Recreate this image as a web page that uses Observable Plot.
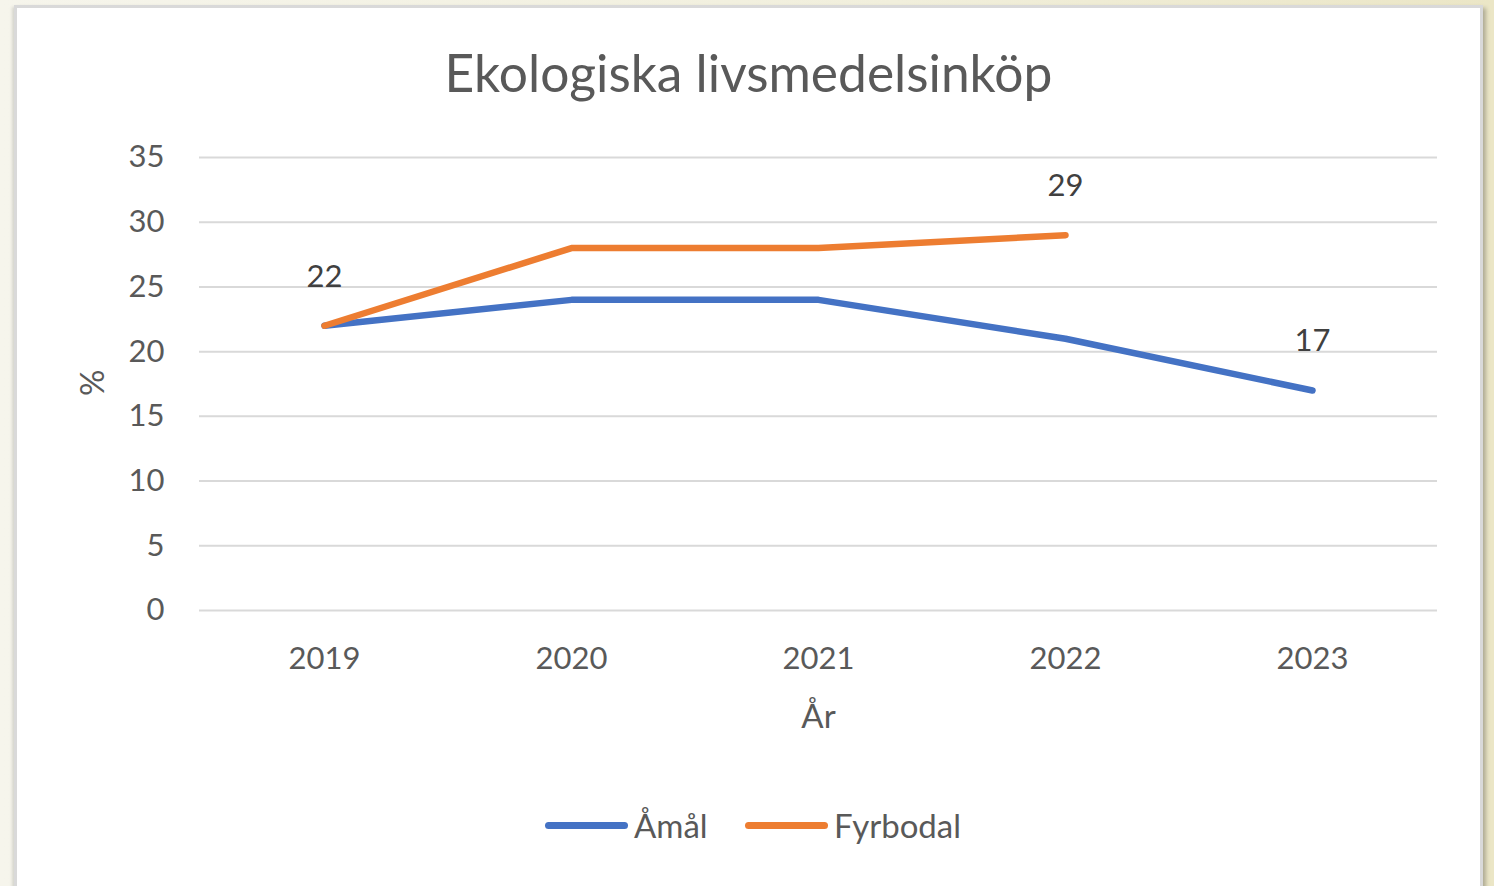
<!DOCTYPE html>
<html>
<head>
<meta charset="utf-8">
<script src="https://cdn.jsdelivr.net/npm/d3@7"></script>
<script src="https://cdn.jsdelivr.net/npm/@observablehq/plot@0.6"></script>
<style>
  html, body { margin: 0; padding: 0; }
  body {
    width: 1494px; height: 886px; overflow: hidden; position: relative;
    background: linear-gradient(to right, #f6f5ec 0%, #f1efdc 60%, #ebe6c6 100%);
    font-family: Lato, "Open Sans", sans-serif;
  }
  #panel {
    position: absolute; left: 14px; top: 5px; width: 1463px; height: 881px;
    background: #fff; border: 3px solid #d9d9d9; border-bottom: none;
    box-shadow: 3px 3px 4px rgba(0,0,0,0.25), -2px 2px 3px rgba(0,0,0,0.12);
  }
  #title {
    position: absolute; left: 0; top: 42px; width: 1497px; text-align: center;
    font-size: 51.5px; color: #595959; line-height: 60px;
  }
  #chart { position: absolute; left: 0; top: 120px; }
  #legend {
    position: absolute; top: 805px; left: 0; width: 1494px; height: 40px;
  }
  .li { position: absolute; top: 0; display: flex; align-items: center; height: 40px;
        font-size: 33px; color: #595959; }
  .sw { width: 83px; height: 7px; border-radius: 4px; margin-right: 6px; }
</style>
</head>
<body>
<div id="panel"></div>
<div id="title">Ekologiska livsmedelsinköp</div>
<div id="chart"></div>
<div id="legend">
  <div class="li" style="left:545px"><div class="sw" style="background:#4472c4"></div>Åmål</div>
  <div class="li" style="left:745px"><div class="sw" style="background:#ed7d31"></div>Fyrbodal</div>
</div>
<script>
const years = ["2019", "2020", "2021", "2022", "2023"];
const amal = [22, 24, 24, 21, 17];
const fyrbodal = [22, 28, 28, 29, null];
const yTicks = [0, 5, 10, 15, 20, 25, 30, 35];
const labelSeries = ["Fyrbodal", "Fyrbodal", "Åmål"];
const labelYears = ["2019", "2022", "2023"];
const labelValues = [22, 29, 17];

const colors = {"Åmål": "#4472c4", "Fyrbodal": "#ed7d31"};
const rows = [];
years.forEach((y, i) => {
  rows.push({series: "Åmål", year: y, value: amal[i]});
  if (fyrbodal[i] != null) rows.push({series: "Fyrbodal", year: y, value: fyrbodal[i]});
});
const labels = labelYears.map((y, i) => ({series: labelSeries[i], year: y, value: labelValues[i]}));

const chart = Plot.plot({
  width: 1494,
  height: 640,
  marginLeft: 199,
  marginRight: 57,
  marginTop: 37,
  marginBottom: 150,
  style: {fontFamily: "Lato, 'Open Sans', sans-serif", background: "transparent", color: "#595959"},
  x: {type: "point", domain: years, padding: 0.5, label: null},
  y: {domain: [0, 35], ticks: yTicks, label: null},
  marks: [
    Plot.gridY(yTicks, {stroke: "#d9d9d9", strokeOpacity: 1, strokeWidth: 2}),
    Plot.axisY(yTicks, {tickSize: 0, tickPadding: 35, fontSize: 31, fill: "#595959", label: null}),
    Plot.axisX(years, {tickSize: 0, tickPadding: 36, fontSize: 31, fill: "#595959", label: null}),
    Plot.text(["År"], {frameAnchor: "bottom", dy: 117, fontSize: 33, fill: "#595959"}),
    Plot.text(["%"], {frameAnchor: "left", dx: -106, dy: 12, rotate: -90, fontSize: 33, fill: "#595959"}),
    Plot.line(rows.filter(d => d.series === "Åmål"), {x: "year", y: "value", stroke: colors["Åmål"], strokeWidth: 6.5, strokeLinecap: "round", strokeLinejoin: "round"}),
    Plot.line(rows.filter(d => d.series === "Fyrbodal"), {x: "year", y: "value", stroke: colors["Fyrbodal"], strokeWidth: 6.5, strokeLinecap: "round", strokeLinejoin: "round"}),
    Plot.text(labels, {x: "year", y: "value", text: d => String(d.value), dy: -49, fontSize: 31, fill: "#404040"})
  ]
});
document.getElementById("chart").appendChild(chart);
</script>
</body>
</html>
